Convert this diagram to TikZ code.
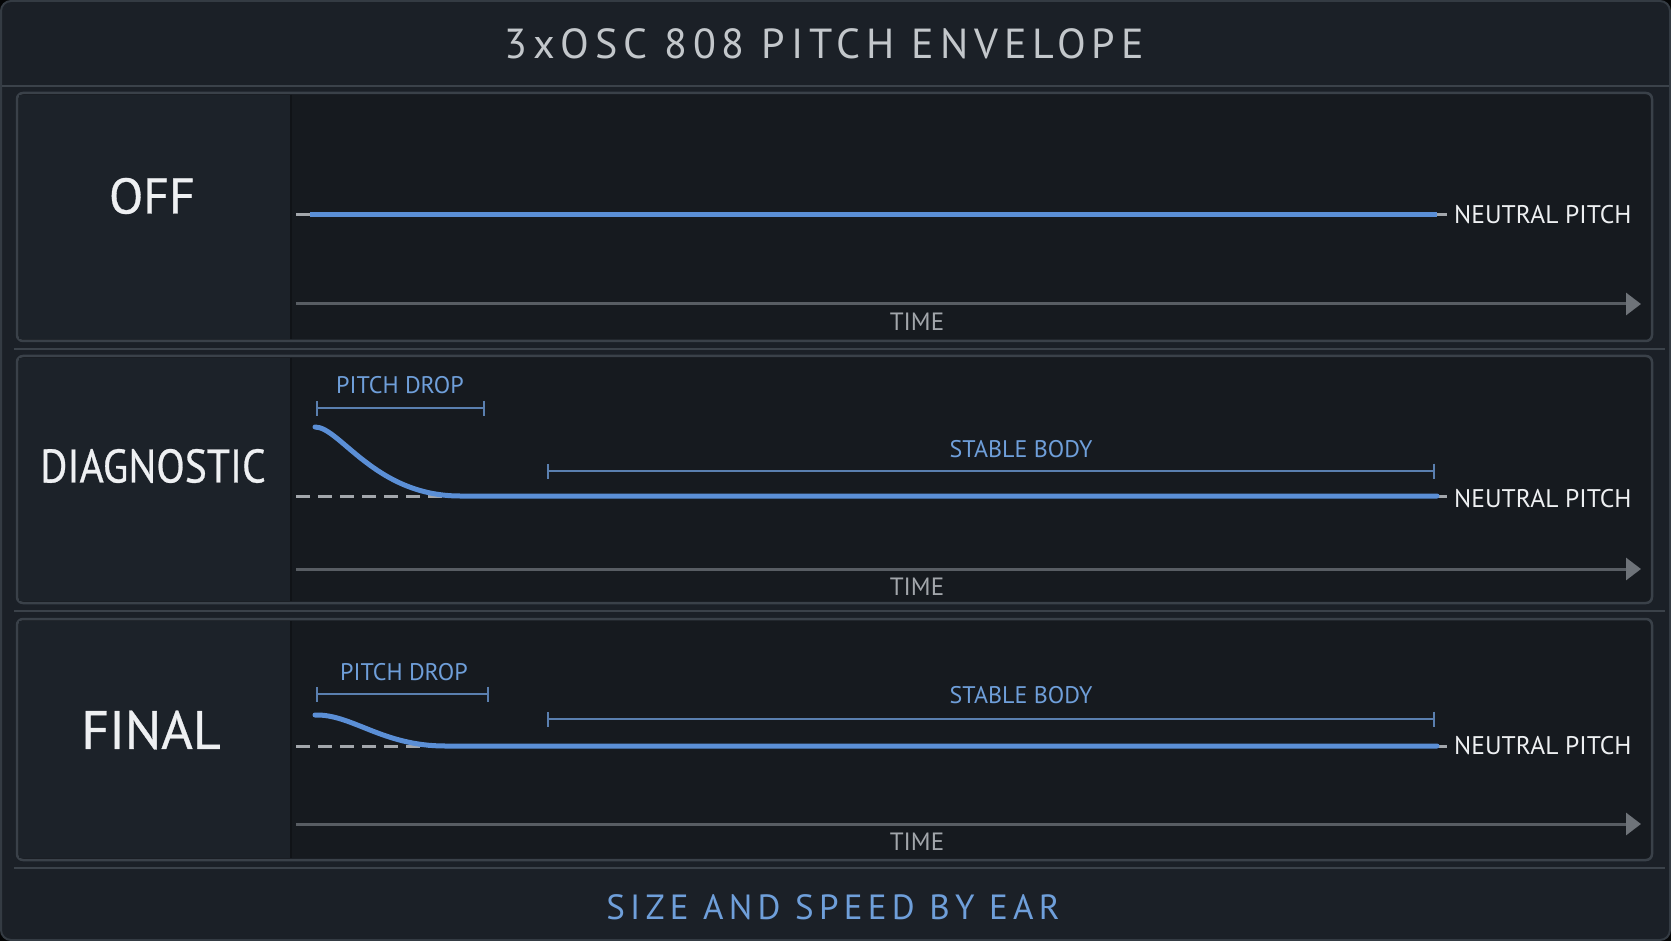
\documentclass[tikz,border=0pt]{standalone}
\usepackage{fontspec}
\setmainfont{PT Sans}
\newfontfamily\titlefont[LetterSpace=14]{PT Sans}
\newfontfamily\footfont[LetterSpace=15]{PT Sans}
\newfontfamily\labelfont[FakeBold=0.6]{PT Sans}
\usetikzlibrary{arrows.meta}
\definecolor{outerbg}{HTML}{1B2027}
\definecolor{framebd}{HTML}{343B43}
\definecolor{panelbd}{HTML}{3A4149}
\definecolor{plotbg}{HTML}{161A1F}
\definecolor{labelbg}{HTML}{1C2229}
\definecolor{sepline}{HTML}{3B424A}
\definecolor{curveblue}{HTML}{5B8FD6}
\definecolor{textblue}{HTML}{6F9FDA}
\definecolor{bracketblue}{HTML}{5A7FAF}
\definecolor{axisgray}{HTML}{585D63}
\definecolor{arrowgray}{HTML}{6E7379}
\definecolor{timegray}{HTML}{A2A6AB}
\definecolor{dashgray}{HTML}{A3A7AC}
\definecolor{whitetext}{HTML}{EEF0F2}
\definecolor{titlegray}{HTML}{C3C7CB}
\definecolor{dividercol}{HTML}{101317}
\begin{document}
\begin{tikzpicture}[x=1pt,y=-1pt,
  panelframe/.style={draw=panelbd,line width=2.5pt,fill=plotbg,rounded corners=6pt},
  labelpane/.style={fill=labelbg},
  divider/.style={draw=dividercol,line width=2pt},
  sepstyle/.style={draw=sepline,line width=2pt},
  panellabel/.style={text=whitetext,inner sep=0pt,font=\labelfont\fontsize{50}{60}\selectfont},
  neutrallabel/.style={text=whitetext,inner sep=0pt,anchor=west,font=\fontsize{25.5}{30}\selectfont},
  timelabel/.style={text=timegray,inner sep=0pt,font=\fontsize{25}{30}\selectfont},
  bluelabel/.style={text=textblue,inner sep=0pt,font=\fontsize{24}{30}\selectfont},
  axisline/.style={draw=axisgray,line width=3pt,-{Triangle[length=15pt,width=22pt,color=arrowgray]}},
  neutraldash/.style={draw=dashgray,line width=3pt,dash pattern=on 14pt off 8pt},
  neutralend/.style={draw=dashgray,line width=3pt},
  pitchcurve/.style={draw=curveblue,line width=5pt,line cap=round},
  bracketline/.style={draw=bracketblue,line width=1.6pt,{Bar[width=15pt,line width=1.6pt]}-{Bar[width=15pt,line width=1.6pt]}}
]
\useasboundingbox (0,0) rectangle (1671,941);
\fill[black!85!outerbg] (0,0) rectangle (1671,941);
\draw[fill=outerbg,draw=framebd,line width=2pt,rounded corners=10pt] (1,1) rectangle (1670,940);
% separators
\draw[sepstyle] (2,86) -- (1669,86);
\draw[sepstyle] (14,349) -- (1665,349);
\draw[sepstyle] (14,611) -- (1665,611);
\draw[sepstyle] (14,868) -- (1665,868);
% title and footer
\node[text=titlegray,inner sep=0pt,font=\titlefont\fontsize{42}{50}\selectfont] (title) at (824,44) {3xOSC 808 PITCH ENVELOPE};
\node[text=textblue,inner sep=0pt,font=\footfont\fontsize{35}{42}\selectfont] (footer) at (833,907) {SIZE AND SPEED BY EAR};
% panels
\foreach \ya/\yb in {93/341,356/603,619/860}{
  \draw[panelframe] (17,\ya) rectangle (1652,\yb);
  \fill[labelpane] (19,\ya+2) rectangle (290,\yb-2);
  \draw[divider] (291,\ya+2) -- (291,\yb-2);
}
% ---------- panel 1: OFF ----------
\node[panellabel] (offlbl) at (152,196) {OFF};
\coordinate (n1a) at (296,215);
\coordinate (n1b) at (1447,215);
\coordinate (b1a) at (310,215);
\coordinate (b1b) at (1437,215);
\draw[neutraldash] (n1a) -- (b1b);
\draw[neutralend] (b1b) -- (n1b);
\draw[pitchcurve,line cap=butt] (b1a) -- (b1b);
\node[neutrallabel] (np1) at (1454,215) {NEUTRAL PITCH};
\coordinate (t1a) at (296,304);
\coordinate (t1b) at (1641,304);
\draw[axisline] (t1a) -- (t1b);
\node[timelabel] (time1) at (917,322) {TIME};
% ---------- panel 2: DIAGNOSTIC ----------
\node[panellabel,font=\labelfont\fontsize{47}{56}\selectfont] (diaglbl) at (153,466) {\scalebox{0.885}[1]{DIAGNOSTIC}};
\node[bluelabel] (pd2) at (400,385) {PITCH DROP};
\coordinate (pd2a) at (316,408);
\coordinate (pd2b) at (485,408);
\draw[bracketline] (pd2a) -- (pd2b);
\node[bluelabel] (sb2) at (1021,449) {STABLE BODY};
\coordinate (sb2a) at (547,471);
\coordinate (sb2b) at (1435,471);
\draw[bracketline] (sb2a) -- (sb2b);
\coordinate (n2a) at (296,496);
\coordinate (n2m) at (455,496);
\coordinate (n2e) at (1437,496);
\coordinate (n2b) at (1447,496);
\coordinate (c2s) at (315,427);
\draw[neutraldash] (n2a) -- (n2m);
\draw[neutralend] (n2e) -- (n2b);
\draw[pitchcurve] (c2s) .. controls (340,427) and (375,496) .. (460,496) -- (n2e);
\node[neutrallabel] (np2) at (1454,499) {NEUTRAL PITCH};
\coordinate (t2a) at (296,569);
\coordinate (t2b) at (1641,569);
\draw[axisline] (t2a) -- (t2b);
\node[timelabel] (time2) at (917,587) {TIME};
% ---------- panel 3: FINAL ----------
\node[panellabel,font=\labelfont\fontsize{54}{64}\selectfont] (finlbl) at (151,730) {FINAL};
\node[bluelabel] (pd3) at (404,672) {PITCH DROP};
\coordinate (pd3a) at (316,694);
\coordinate (pd3b) at (489,694);
\draw[bracketline] (pd3a) -- (pd3b);
\node[bluelabel] (sb3) at (1021,695) {STABLE BODY};
\coordinate (sb3a) at (547,719);
\coordinate (sb3b) at (1435,719);
\draw[bracketline] (sb3a) -- (sb3b);
\coordinate (n3a) at (296,746);
\coordinate (n3m) at (440,746);
\coordinate (n3e) at (1437,746);
\coordinate (n3b) at (1447,746);
\coordinate (c3s) at (315,715);
\draw[neutraldash] (n3a) -- (n3m);
\draw[neutralend] (n3e) -- (n3b);
\draw[pitchcurve] (c3s) .. controls (352,714) and (382,746) .. (445,746) -- (n3e);
\node[neutrallabel] (np3) at (1454,746) {NEUTRAL PITCH};
\coordinate (t3a) at (296,824);
\coordinate (t3b) at (1641,824);
\draw[axisline] (t3a) -- (t3b);
\node[timelabel] (time3) at (917,842) {TIME};
\end{tikzpicture}
\end{document}
